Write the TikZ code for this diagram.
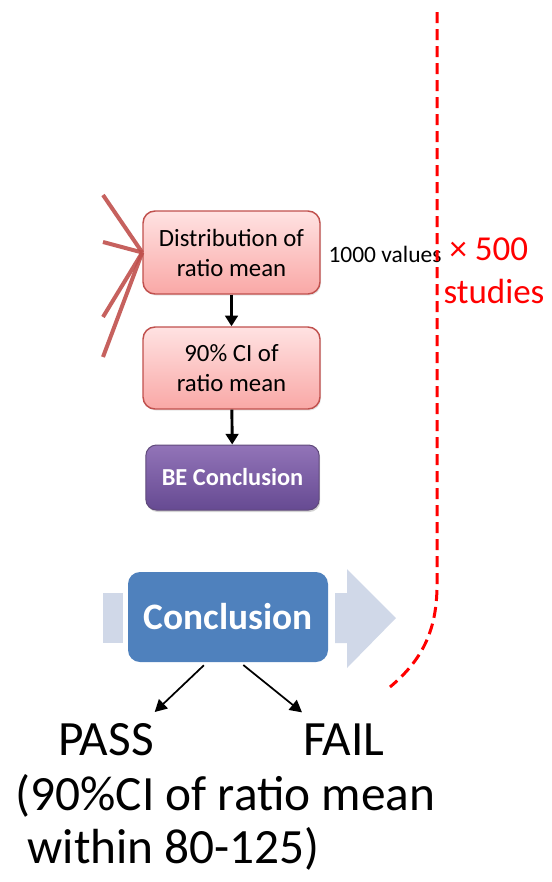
\documentclass[tikz,border=0pt]{standalone}
\usepackage{fontspec}
\setmainfont{Carlito}
\usetikzlibrary{arrows.meta,shadows}

\definecolor{boxred}{RGB}{192,80,77}
\definecolor{pinktop}{RGB}{255,226,226}
\definecolor{pinkbot}{RGB}{249,168,166}
\definecolor{purptop}{RGB}{146,116,184}
\definecolor{purpbot}{RGB}{102,74,146}
\definecolor{purpline}{RGB}{96,74,123}
\definecolor{conblue}{RGB}{79,129,189}
\definecolor{flowgray}{RGB}{208,216,232}

\tikzset{every picture/.style={line width=0.75pt}}
\tikzset{
  pinkbox/.style={draw=boxred, line width=1.1pt, rounded corners=9pt, top color=pinktop, bottom color=pinkbot,
    minimum width=132.75pt, align=center, inner sep=0pt, font=\fontsize{18.6}{22.5}\selectfont,
    drop shadow={opacity=0.2, shadow xshift=0.8pt, shadow yshift=-1.2pt}},
  purpbox/.style={draw=purpline, line width=0.75pt, rounded corners=8pt, top color=purptop, bottom color=purpbot,
    minimum width=130pt, minimum height=48.75pt, text=white, font=\fontsize{18.3}{22}\selectfont\bfseries,
    drop shadow={opacity=0.35, shadow xshift=0.8pt, shadow yshift=-1.5pt}},
  bluebox/.style={fill=conblue, rounded corners=9pt, minimum width=150pt, minimum height=67.5pt,
    text=white, font=\fontsize{28}{30}\selectfont\bfseries},
  feeder/.style={draw=boxred, line width=3pt, opacity=0.9},
  downarrow/.style={-{Triangle[width=9.5pt,length=8pt]}, line width=2.2pt},
  thinarrow/.style={-{Triangle[width=9.5pt,length=9pt]}, line width=1.3pt, shorten <=3pt},
  bigtext/.style={anchor=base west, inner sep=0.75pt, font=\fontsize{37}{42}\selectfont},
  verdict/.style={bigtext, outer xsep=0pt, outer ysep=7.5pt},
  redtext/.style={anchor=base west, inner sep=0.75pt, text=red, font=\fontsize{26.25}{30}\selectfont},
  loopline/.style={draw=red, line width=2.25pt, dash pattern=on 8.25pt off 4.5pt}
}

\begin{document}
\begin{tikzpicture}[x=0.75pt,y=0.75pt,yscale=-1,xscale=1]
\useasboundingbox (0,0) rectangle (551,882);

%Shape: Gray flow arrow (left stub)
\fill [flowgray] (103,593) -- (123,593) -- (123,643) -- (103,643) -- cycle ;
%Shape: Gray flow arrow (right)
\fill [flowgray] (335,593) -- (347,593) -- (347,569) -- (396,618) -- (347,668) -- (347,643) -- (335,643) -- cycle ;

% Boxes
\draw (231.5,252.5) node (dist) [pinkbox, minimum height=62.25pt] {Distribution of\\ratio mean};
\draw (231.5,368) node (ci) [pinkbox, minimum height=61.5pt] {90\% CI of\\ratio mean};
\draw (232.5,477.5) node (be) [purpbox] {BE Conclusion};
\draw (228,617) node (concl) [bluebox] {Conclusion};

% Text Node
\draw (327,262) node (vals) [anchor=base west, inner sep=0.75pt, font=\fontsize{17.6}{21}\selectfont] {1000 values};
% Text Node
\draw (448,260) node (times) [redtext] {× 500};
% Text Node
\draw (442,303) node (studies) [redtext] {studies};
% Text Node
\draw (57,755) node (pass) [verdict] {PASS};
% Text Node
\draw (302,755) node (fail) [verdict] {FAIL};
% Text Node
\draw (14,810) node (range) [bigtext] {(90\%CI of ratio mean};
% Text Node
\draw (26,863) node (within) [bigtext] {within 80-125)};

% Incoming red lines
\coordinate (in1) at (103,195);
\coordinate (in2) at (103,242);
\coordinate (in3) at (103,317);
\coordinate (in4) at (103,357);
\foreach \s in {in1,in2,in3,in4}
  \draw [feeder] (\s) -- (dist.west);

% Arrows
\draw [downarrow] (dist) -- (ci);
\draw [downarrow] (ci) -- (be);
\draw [thinarrow] (concl.245) -- (pass.north east);
\draw [thinarrow] (concl.285) -- (fail.north west);

% Dashed loop boundary
\draw [loopline] (437,12) -- (437,585) .. controls (437,632) and (421,661) .. (390,687);

\end{tikzpicture}
\end{document}
